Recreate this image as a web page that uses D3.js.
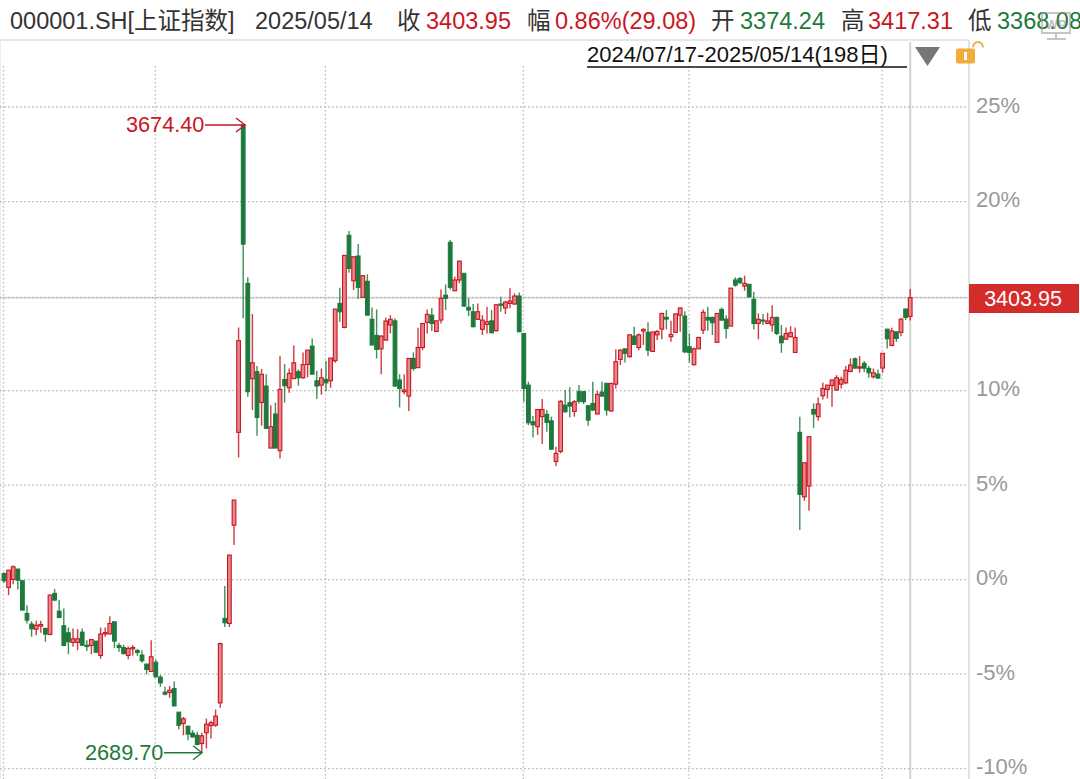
<!DOCTYPE html>
<html>
<head>
<meta charset="utf-8">
<script src="https://cdn.jsdelivr.net/npm/d3@7/dist/d3.min.js"></script>
<style>
html,body{margin:0;padding:0;background:#fff;overflow:hidden}
svg{display:block}
text{font-family:"Liberation Sans","Noto Sans CJK SC",sans-serif}
</style>
</head>
<body>
<svg id="c" width="1080" height="779"></svg>
<script>
// percent change against the window's base close, one entry per trading day
const bodyTop = [.33,.50,.68,.56,-.06,-1.79,-2.35,-2.41,-2.37,-2.58,-.82,-.73,-1.67,-2.44,-2.81,-3.13,-3.13,-2.78,-3.47,-3.17,-3.25,-2.88,-2.80,-2.32,-2.23,-3.48,-3.59,-3.64,-3.59,-3.75,-3.99,-4.47,-4.08,-4.37,-5.16,-5.95,-5.85,-5.76,-7.01,-7.36,-7.75,-8.12,-8.23,-8.26,-7.65,-7.57,-7.22,-3.38,-2.05,1.30,4.21,
12.64,24.05,15.67,11.47,11.00,10.86,10.24,8.09,8.76,10.06,10.59,10.91,11.47,11.00,11.37,12.14,12.35,10.52,10.68,10.59,11.72,14.31,14.61,17.15,18.21,17.08,17.12,16.08,15.78,13.77,12.92,12.88,13.68,13.77,13.69,10.56,10.03,11.70,11.70,12.28,13.55,14.03,13.99,13.69,14.88,15.05,17.84,15.85,16.85,16.20,14.40,14.17,14.17,13.73,13.64,13.69,14.54,14.58,14.68,14.74,15.00,15.00,13.02,10.29,8.35,9.00,9.00,8.74,8.40,6.68,9.43,9.23,9.36,9.41,9.94,9.94,9.20,9.32,9.80,9.92,10.38,10.38,11.53,
12.14,12.21,12.95,12.88,12.95,13.24,13.08,13.10,13.13,14.08,13.87,12.97,14.06,14.37,13.94,12.32,12.21,12.81,14.14,13.87,13.87,14.08,14.29,13.78,15.42,15.85,15.93,15.67,15.62,14.82,13.77,13.73,13.68,13.87,13.87,12.88,13.02,13.06,12.81,
7.79,6.18,7.56,9.00,9.29,10.11,10.29,10.56,10.68,10.59,11.08,11.35,11.68,11.26,11.44,11.17,10.94,10.87,11.97,13.25,13.15,13.11,13.78,14.31,14.92];
const bodyBottom = [-.06,-.41,.01,-.03,-1.61,-2.14,-2.60,-2.62,-2.46,-2.88,-2.90,-1.08,-2.00,-3.48,-3.29,-3.32,-3.32,-3.47,-3.54,-3.48,-3.84,-4.01,-2.87,-2.87,-3.25,-3.59,-3.91,-4.01,-3.66,-3.85,-4.29,-4.75,-4.86,-5.14,-5.46,-6.06,-5.97,-6.68,-7.70,-7.61,-8.17,-8.32,-8.72,-8.67,-8.10,-7.72,-7.70,-6.52,-2.28,-2.32,2.88,
7.79,17.75,9.94,10.63,8.58,9.37,8.00,6.96,6.96,6.82,10.26,10.15,10.63,10.68,10.68,11.38,10.87,10.24,10.29,10.41,10.52,11.58,14.17,13.34,16.46,15.81,15.46,14.93,13.99,12.41,12.18,12.21,12.67,13.47,10.24,10.11,9.94,9.71,11.17,11.21,12.28,13.61,13.55,13.13,13.73,14.88,15.46,15.28,15.85,14.47,14.26,13.38,13.77,13.24,13.50,13.06,13.17,14.51,14.37,14.61,14.58,13.11,10.11,8.30,8.19,8.09,8.62,8.32,6.90,6.25,6.78,8.88,9.18,8.90,9.44,9.41,8.44,8.97,8.76,9.71,8.97,8.92,10.34,
11.65,11.97,11.79,12.44,12.28,13.15,12.14,12.07,12.95,13.25,13.78,12.85,13.08,13.99,12.05,12.02,11.37,12.21,13.20,13.73,13.59,12.55,13.73,13.29,13.41,15.58,15.71,15.53,14.96,13.55,13.55,13.68,13.55,13.47,13.02,12.53,12.72,12.85,12.02,
4.51,4.38,4.95,8.76,8.62,9.73,10.06,10.27,10.03,10.34,10.41,11.01,11.19,11.19,11.19,10.94,10.73,10.66,11.19,12.74,12.39,12.76,13.08,13.87,13.92];
const high = [.36,.50,.75,.56,-.03,-1.35,-2.20,-2.18,-2.18,-2.58,-.78,-.50,-1.08,-1.53,-2.53,-2.58,-2.62,-2.58,-3.20,-3.17,-3.25,-2.53,-2.53,-1.93,-2.23,-3.34,-3.45,-3.52,-3.47,-3.66,-3.73,-4.44,-3.20,-4.22,-5.04,-5.67,-5.63,-5.39,-7.01,-7.26,-7.75,-7.96,-8.05,-8.10,-7.35,-7.47,-6.87,-3.34,-.34,1.30,4.21,
13.34,24.05,15.99,14.05,11.30,11.14,10.87,9.23,9.36,11.83,11.40,11.17,12.39,11.12,12.02,12.14,12.76,11.05,11.17,11.58,11.72,14.31,15.44,17.15,18.44,17.08,17.75,16.11,16.15,14.40,14.29,12.94,13.87,13.99,13.82,10.87,10.86,11.70,12.02,13.32,13.55,14.29,14.35,13.69,15.35,15.62,17.96,16.02,16.85,16.20,14.88,14.58,14.61,13.99,14.44,14.26,14.54,14.96,14.75,15.41,15.14,15.19,13.02,10.47,8.65,9.00,9.55,8.97,8.62,7.03,9.50,10.03,10.17,9.50,10.29,9.99,9.23,10.47,9.99,10.47,10.41,10.41,12.18,
12.18,12.21,12.95,13.38,13.02,13.29,13.61,13.10,13.20,14.12,14.26,13.69,14.06,14.40,14.19,13.02,12.28,12.85,14.29,14.44,13.91,14.08,14.40,13.99,15.42,15.99,15.99,16.08,15.63,15.23,14.08,14.05,14.12,14.52,13.91,13.47,13.34,13.41,13.34,
8.62,6.18,7.56,9.32,9.64,10.41,10.29,10.59,10.82,10.73,11.30,11.70,11.75,11.83,11.56,11.30,11.17,11.12,11.97,13.25,13.32,13.11,13.82,14.35,15.37];
const low = [-.17,-.82,-.24,-.52,-1.61,-2.32,-3.02,-2.94,-2.81,-3.29,-2.94,-1.14,-2.04,-3.52,-3.94,-3.55,-3.73,-3.50,-3.77,-3.94,-3.85,-4.19,-3.02,-2.90,-3.61,-3.82,-3.96,-4.21,-4.01,-4.03,-4.40,-5.00,-4.89,-5.18,-5.67,-6.11,-6.25,-6.69,-7.93,-8.23,-8.49,-8.35,-8.76,-9.16,-8.93,-8.40,-7.79,-6.78,-2.50,-2.50,1.83,
6.46,13.82,9.67,8.97,7.61,8.14,8.00,6.96,6.96,6.41,9.36,9.89,10.63,10.26,10.63,10.70,10.87,9.55,9.78,9.97,10.15,11.47,13.64,13.29,16.23,15.32,14.84,14.93,13.99,12.41,11.70,10.86,12.64,13.02,10.20,9.11,9.81,8.92,11.05,11.21,12.14,13.02,13.15,13.13,13.55,14.26,15.35,15.28,15.67,14.44,13.94,13.34,13.73,12.94,13.02,13.02,13.13,14.17,14.05,14.35,14.54,13.11,9.41,8.17,7.52,7.65,7.17,7.82,6.89,6.01,6.68,8.83,8.58,8.62,9.32,9.29,8.14,8.93,8.76,9.67,8.67,8.88,10.11,
11.35,11.49,11.75,12.41,12.14,12.41,11.83,12.05,12.67,12.72,13.24,12.58,13.06,13.11,11.97,11.49,11.33,12.20,12.99,13.17,12.94,12.55,13.69,12.76,13.41,15.49,15.63,15.28,14.93,13.24,12.71,13.47,13.55,13.11,12.94,12.00,12.67,12.81,12.00,
2.62,4.17,3.64,8.03,8.40,9.53,9.59,9.14,9.99,10.11,10.34,10.98,11.16,10.94,10.98,10.68,10.64,10.64,10.94,12.23,12.35,12.58,12.88,13.73,13.71];
// days whose close is below the open
const greenDays = [0,3,4,5,6,9,11,12,13,14,17,18,20,24,25,26,29,30,31,33,34,35,37,38,40,41,42,48,
  52,53,55,57,59,61,64,67,68,70,73,75,77,79,80,81,85,86,89,93,96,97,100,101,102,106,108,112,113,114,115,118,119,122,123,125,126,127,128,130,131,
  135,137,140,144,148,149,153,154,156,157,159,160,162,163,165,168,169,173,176,185,187,188,190,192,194,196];
const yLabels = [-10,-5,0,5,10,20,25];
const monthStartDays = [0,33,70,113,149,191];
const header = [
  {t:"000001.SH[上证指数]",x:10,c:"#333"},{t:"2025/05/14",x:255,c:"#333"},
  {t:"收",x:397,c:"#333"},{t:"3403.95",x:426,c:"#c9161f"},
  {t:"幅",x:527,c:"#333"},{t:"0.86%(29.08)",x:555,c:"#c9161f"},
  {t:"开",x:711,c:"#333"},{t:"3374.24",x:740,c:"#1d7a3c"},
  {t:"高",x:841,c:"#333"},{t:"3417.31",x:868,c:"#c9161f"},
  {t:"低",x:968,c:"#333"},{t:"3368.08",x:997,c:"#1d7a3c"}];
const maxPct = 24.05, minPct = -9.16, lastPct = 14.92;

const red="#c9161f", green="#1d7a3c";
const svg=d3.select("#c");
const n=bodyTop.length;
const x=d3.scaleLinear().domain([0,197]).range([4,910.2]);
const y=d3.scaleLinear().domain([-10,25]).range([768.7,107]);
const bw=3.7;

// frame
svg.append("line").attr("x1",0).attr("x2",969).attr("y1",40).attr("y2",40).attr("stroke","#e6e6e6").attr("stroke-width",2);
svg.append("line").attr("x1",969).attr("x2",969).attr("y1",40).attr("y2",779).attr("stroke","#e2e2e2").attr("stroke-width",2);
svg.append("line").attr("x1",0.5).attr("x2",0.5).attr("y1",40).attr("y2",779).attr("stroke","#eee").attr("stroke-width",1);

// current price and crosshair
svg.append("line").attr("x1",0).attr("x2",969).attr("y1",y(lastPct)).attr("y2",y(lastPct)).attr("stroke","#d8d8d8").attr("stroke-width",1.8);
svg.append("line").attr("x1",x(197)).attr("x2",x(197)).attr("y1",42).attr("y2",779).attr("stroke","#d2d2d2").attr("stroke-width",2);

// grid
svg.append("g").selectAll("line").data([...yLabels,lastPct]).join("line")
  .attr("x1",0).attr("x2",968).attr("y1",d=>y(d)).attr("y2",d=>y(d))
  .attr("stroke","#b8b8b8").attr("stroke-width",1.3).attr("stroke-dasharray","1.6,2.4");
svg.append("g").selectAll("line").data(monthStartDays).join("line")
  .attr("x1",d=>x(d)-0.5).attr("x2",d=>x(d)-0.5).attr("y1",66).attr("y2",779)
  .attr("stroke","#b8b8b8").attr("stroke-width",1.3).attr("stroke-dasharray","1.6,2.4");

// candles
const days=d3.range(n);
const isGreen=i=>greenDays.includes(i);
svg.append("g").selectAll("line").data(days).join("line")
  .attr("x1",i=>x(i)).attr("x2",i=>x(i)).attr("y1",i=>y(high[i])).attr("y2",i=>y(low[i]))
  .attr("stroke",i=>isGreen(i)?green:red).attr("stroke-width",1.4).attr("stroke-opacity",.85);
svg.append("g").selectAll("rect").data(days).join("rect")
  .attr("x",i=>x(i)-bw/2).attr("width",bw)
  .attr("y",i=>y(bodyTop[i])).attr("height",i=>Math.max(y(bodyBottom[i])-y(bodyTop[i]),1))
  .attr("fill",i=>isGreen(i)?green:"#e6868d")
  .attr("stroke",i=>isGreen(i)?green:red).attr("stroke-width",1.1);

// axis
const axis=d3.axisRight(y).tickValues(yLabels).tickSize(0).tickPadding(7).tickFormat(d=>d+"%");
const ag=svg.append("g").attr("transform","translate(969,-2)").call(axis);
ag.select(".domain").remove();
ag.selectAll("text").attr("font-size",22).attr("fill","#999").attr("font-family",'"Liberation Sans",sans-serif');

// last price tag
svg.append("rect").attr("x",969).attr("y",284).attr("width",110).attr("height",29).attr("fill","#d42b2b");
svg.append("text").attr("x",1023).attr("y",305.5).attr("text-anchor","middle").attr("font-size",21.5).attr("fill","#fff").text("3403.95");

// header
svg.append("g").selectAll("text").data(header).join("text")
  .attr("x",d=>d.x).attr("y",28.5).attr("font-size",23.5).attr("fill",d=>d.c).text(d=>d.t);

// date range
svg.append("text").attr("x",587).attr("y",62).attr("font-size",22).attr("fill","#111").text("2024/07/17-2025/05/14(198日)");
svg.append("line").attr("x1",587).attr("x2",907).attr("y1",67).attr("y2",67).attr("stroke","#111").attr("stroke-width",1.3);
svg.append("path").attr("d","M915,47H940L927.5,66Z").attr("fill","#767676");

// lock
svg.append("rect").attr("x",956).attr("y",48.5).attr("width",19).attr("height",15).attr("rx",2).attr("fill","#f0ad3e");
svg.append("rect").attr("x",964).attr("y",52).attr("width",3).attr("height",8).attr("fill","#fff");
svg.append("path").attr("d","M973,47.5A5,5.5 0 0 1 983,47.5").attr("fill","none").attr("stroke","#f0ad3e").attr("stroke-width",1.8);

// extreme annotations
function note(label,color,pct,tx,x0,x1){
  const yy=y(pct);
  svg.append("text").attr("x",tx).attr("y",yy+7.5).attr("font-size",21.7).attr("fill",color).text(label);
  svg.append("path").attr("fill","none").attr("stroke",color).attr("stroke-width",1.4)
    .attr("d",`M${x0},${yy}H${x1}M${x1-9},${yy-7}L${x1},${yy}L${x1-9},${yy+7}`);
}
note("3674.40",red,maxPct,126,205,245);
note("2689.70",green,minPct,85,164,202);

// monitor watermark
const mon=svg.append("g").attr("opacity",.55);
mon.append("rect").attr("x",1042).attr("y",13).attr("width",28).attr("height",20).attr("fill","none").attr("stroke","#999").attr("stroke-width",2);
mon.append("path").attr("d","M1056,33V38M1047,39H1066").attr("stroke","#999").attr("stroke-width",2).attr("fill","none");
mon.append("text").attr("x",1056).attr("y",29).attr("text-anchor","middle").attr("font-size",13).attr("font-weight","bold").attr("fill","#888").text("WP");
</script>
</body>
</html>
